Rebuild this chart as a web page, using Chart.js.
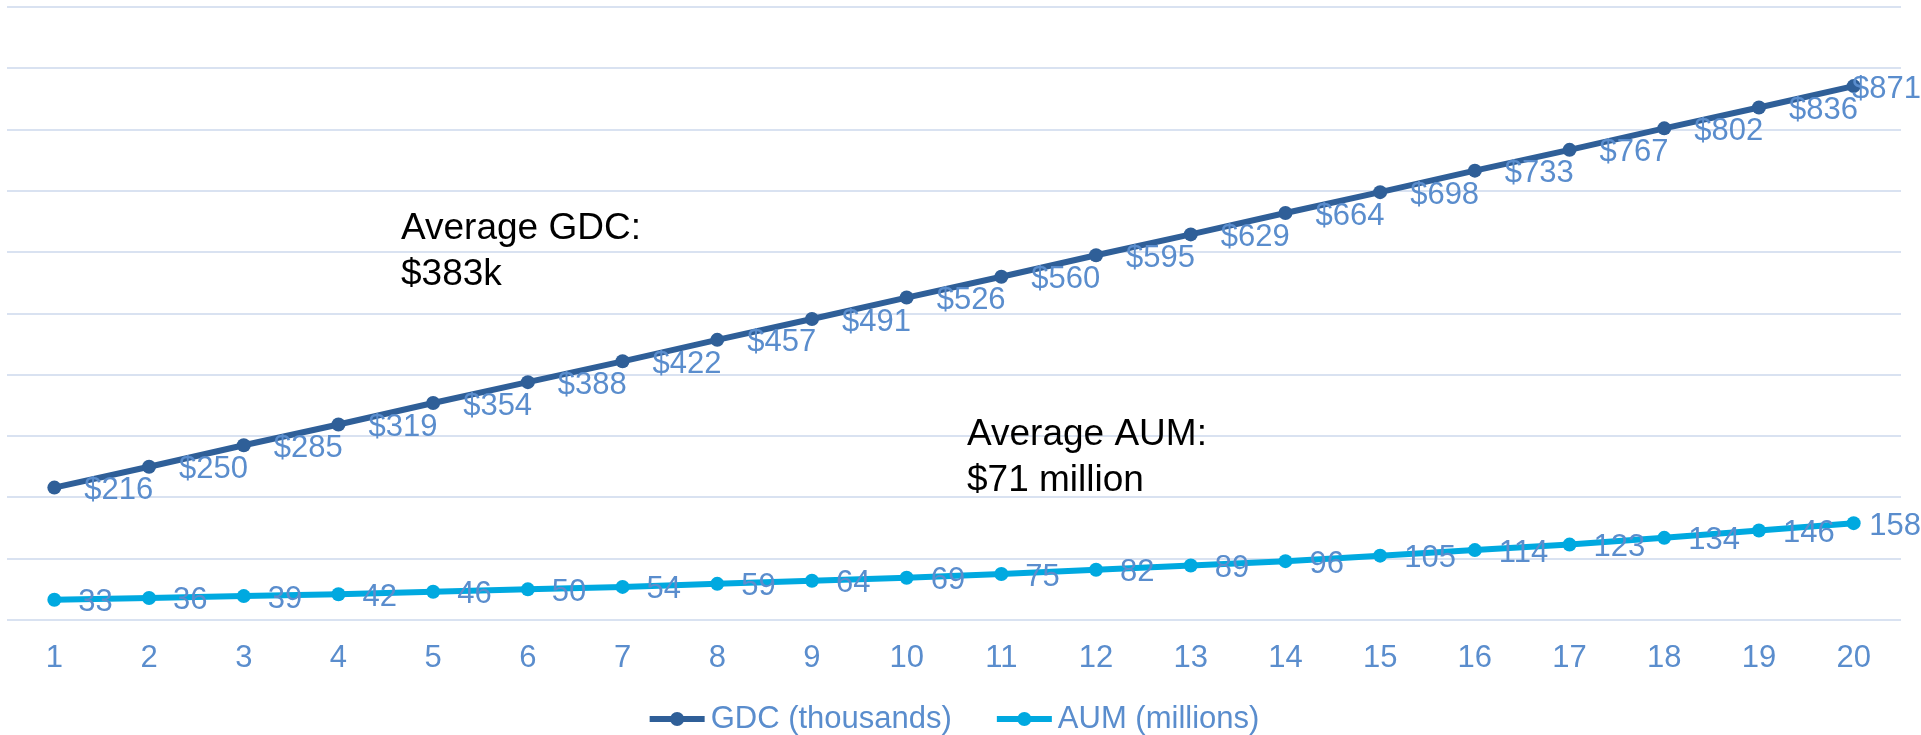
<!DOCTYPE html>
<html>
<head>
<meta charset="utf-8">
<title>GDC and AUM by year</title>
<style>
  html, body { margin: 0; padding: 0; background: #fff; overflow: hidden; }
</style>
<script src="https://cdn.jsdelivr.net/npm/chart.js@4.4.1/dist/chart.umd.min.js"></script>
</head>
<body>
<canvas id="chart" width="1921" height="735"></canvas>
<script>
// data
const years = ['1','2','3','4','5','6','7','8','9','10','11','12','13','14','15','16','17','18','19','20'];
const gdcThousands = [216, 250, 285, 319, 354, 388, 422, 457, 491, 526, 560, 595, 629, 664, 698, 733, 767, 802, 836, 871];
const aumMillions = [33, 36, 39, 42, 46, 50, 54, 59, 64, 69, 75, 82, 89, 96, 105, 114, 123, 134, 146, 158];
const seriesNames = ['GDC (thousands)', 'AUM (millions)'];
const yMin = 0, yMax = 1000, yStep = 100;
const gdcNote = ['Average GDC:', '$383k'];
const aumNote = ['Average AUM:', '$71 million'];

const FONT = '"Liberation Sans", Arial, sans-serif';
const darkBlue = '#2f5f98';
const brightBlue = '#00a9e0';
const labelBlue = '#5a8dcd';
const gridBlue = '#d9e2f1';

// value labels to the right of each point (kept inside the canvas like excel does)
const valueLabels = {
  id: 'valueLabels',
  afterDatasetsDraw(chart) {
    const ctx = chart.ctx;
    ctx.save();
    ctx.font = '31px ' + FONT;
    ctx.fillStyle = labelBlue;
    ctx.textAlign = 'left';
    ctx.textBaseline = 'middle';
    chart.data.datasets.forEach((ds, i) => {
      const meta = chart.getDatasetMeta(i);
      meta.data.forEach((pt, j) => {
        const txt = ds.labelPrefix + ds.data[j];
        const w = ctx.measureText(txt).width;
        const x = Math.min(pt.x + ds.labelGap, chart.width - w);
        ctx.fillText(txt, x, pt.y + 3);
      });
    });
    ctx.restore();
  }
};

// the two "Average" text boxes
const notesPlugin = {
  id: 'notes',
  afterDraw(chart) {
    const ctx = chart.ctx;
    ctx.save();
    ctx.font = '37px ' + FONT;
    ctx.fillStyle = '#000';
    ctx.textAlign = 'left';
    ctx.textBaseline = 'alphabetic';
    gdcNote.forEach((t, i) => ctx.fillText(t, 401, 239 + i * 46));
    aumNote.forEach((t, i) => ctx.fillText(t, 967, 445 + i * 46));
    ctx.restore();
  }
};

// excel style legend: short line with a dot, then the name
const lineLegend = {
  id: 'lineLegend',
  afterDraw(chart) {
    const ctx = chart.ctx;
    const markW = 55, markGap = 6, itemGap = 45, y = 719;
    ctx.save();
    ctx.font = '31px ' + FONT;
    const items = chart.data.datasets.map(ds => ({ ds, w: ctx.measureText(ds.label).width }));
    let total = itemGap * (items.length - 1);
    items.forEach(it => total += markW + markGap + it.w);
    let x = chart.width / 2 - 6 - total / 2;
    items.forEach(it => {
      const c = it.ds.borderColor;
      ctx.strokeStyle = c;
      ctx.lineWidth = 6;
      ctx.beginPath(); ctx.moveTo(x, y); ctx.lineTo(x + markW, y); ctx.stroke();
      ctx.fillStyle = c;
      ctx.beginPath(); ctx.arc(x + markW / 2, y, 7, 0, Math.PI * 2); ctx.fill();
      ctx.fillStyle = labelBlue;
      ctx.textAlign = 'left';
      ctx.textBaseline = 'middle';
      ctx.fillText(it.ds.label, x + markW + markGap, y);
      x += markW + markGap + it.w + itemGap;
    });
    ctx.restore();
  }
};

const ctx = document.getElementById('chart').getContext('2d');
new Chart(ctx, {
  type: 'line',
  data: {
    labels: years,
    datasets: [{
      label: seriesNames[0],
      data: gdcThousands,
      borderColor: darkBlue,
      backgroundColor: darkBlue,
      borderWidth: 6,
      pointRadius: 7,
      pointBorderWidth: 0,
      pointBackgroundColor: darkBlue,
      tension: 0,
      labelPrefix: '$',
      labelGap: 30
    }, {
      label: seriesNames[1],
      data: aumMillions,
      borderColor: brightBlue,
      backgroundColor: brightBlue,
      borderWidth: 6,
      pointRadius: 7,
      pointBorderWidth: 0,
      pointBackgroundColor: brightBlue,
      tension: 0,
      labelPrefix: '',
      labelGap: 24
    }]
  },
  options: {
    responsive: false,
    animation: false,
    layout: { padding: { left: 2, right: 20, top: 4, bottom: 59 } },
    scales: {
      x: {
        offset: true,
        grid: { display: false, drawTicks: false },
        border: { display: false },
        ticks: { color: labelBlue, font: { family: FONT, size: 31 }, padding: 20, maxRotation: 0 },
        afterFit(scale) { scale.height = 56; }
      },
      y: {
        min: yMin,
        max: yMax,
        ticks: { display: false, stepSize: yStep },
        grid: { color: gridBlue, lineWidth: 2, drawTicks: false },
        border: { display: false }
      }
    },
    plugins: {
      tooltip: { enabled: false },
      legend: { display: false }
    }
  },
  plugins: [valueLabels, notesPlugin, lineLegend]
});
</script>
</body>
</html>
